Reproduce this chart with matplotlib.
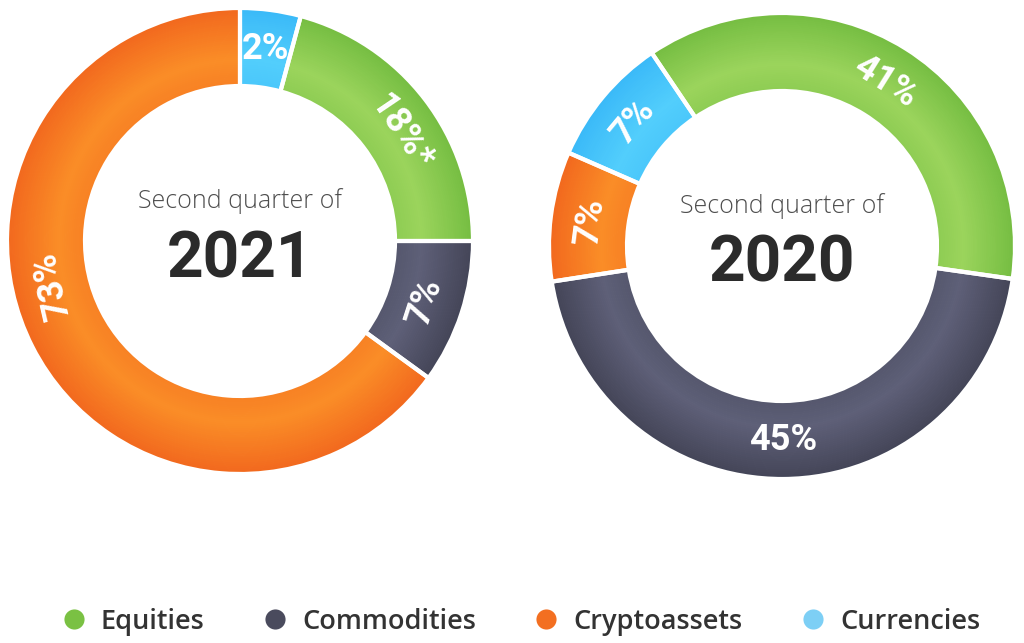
import numpy as np
import matplotlib.pyplot as plt
from matplotlib.colors import to_rgb
from matplotlib.lines import Line2D

categories = ['Equities', 'Commodities', 'Cryptoassets', 'Currencies']
legend_colors = ['#7ac143', '#4a4b5d', '#f36f21', '#7dcff5']

# slice order as drawn (clockwise), shares as they appear on the rings
order_2021 = ['Currencies', 'Equities', 'Commodities', 'Cryptoassets']
shares_2021 = [4.2, 20.8, 10.0, 65.0]
labels_2021 = ['2%', '18%*', '7%', '73%']

order_2020 = ['Equities', 'Commodities', 'Cryptoassets', 'Currencies']
shares_2020 = [36.7, 45.3, 9.0, 9.0]
labels_2020 = ['41%', '45%', '7%', '7%']

# light (mid ring) / dark (outer edge) shades per category
shade = {
    'Equities': ('#9bd45c', '#76be42'),
    'Commodities': ('#5e6078', '#444558'),
    'Cryptoassets': ('#fa8d27', '#f2691e'),
    'Currencies': ('#52cefc', '#3bbaf8'),
}

W, H = 1024, 643
R_OUT, R_IN = 232, 156


def mix(c1, c2, t):
    a, b = np.array(to_rgb(c1)), np.array(to_rgb(c2))
    return tuple(a + (b - a) * t)


def donut(cx, cy, order, shares, labels, start, year, label_angles=None):
    half = 240
    ax = fig.add_axes([(cx - half) / W, (H - cy - half) / H, 2 * half / W, 2 * half / H])
    ax.set_xlim(-half, half)
    ax.set_ylim(-half, half)
    ax.set_aspect('equal')
    ax.axis('off')

    n = 40
    radii = np.linspace(R_IN, R_OUT, n + 1)
    for k in range(n):
        t = (radii[k] + radii[k + 1]) / 2
        t = (t - R_IN) / (R_OUT - R_IN)
        # lightest around 35% of the ring width, darker at the edges
        w = abs(t - 0.35) / 0.65 if t > 0.35 else (0.35 - t) / 0.35 * 0.35
        cols = [mix(shade[c][0], shade[c][1], w) for c in order]
        ax.pie(shares, radius=radii[k + 1], startangle=start, counterclock=False,
               colors=cols, wedgeprops=dict(width=radii[k + 1] - radii[k] + 0.8, linewidth=0))
    # white separators
    ax.pie(shares, radius=R_OUT + 1, startangle=start, counterclock=False,
           colors=['none'] * len(shares),
           wedgeprops=dict(width=R_OUT - R_IN + 2, edgecolor='white', linewidth=3))
    ax.set_xlim(-half, half)
    ax.set_ylim(-half, half)

    cum = np.cumsum([0] + shares)
    r_lab = (R_OUT + R_IN) / 2
    for i, lab in enumerate(labels):
        mid = start - 360 * (cum[i] + cum[i + 1]) / 200
        if label_angles and label_angles[i] is not None:
            mid = label_angles[i]
        a = mid % 360
        rot = a - 90 if a < 240 else a + 90
        if abs(rot) < 12 or abs(rot - 360) < 12:
            rot = 0
        ax.text(r_lab * np.cos(np.radians(mid)), r_lab * np.sin(np.radians(mid)), lab,
                rotation=rot, rotation_mode='anchor', ha='center', va='center',
                color='white', fontsize=26, fontweight='bold', family='Roboto')

    ax.text(0, 33, 'Second quarter of', ha='center', va='baseline', fontsize=18,
            color='#4d4d4d', family='Open Sans', fontweight='light')
    ax.text(0, -36, year, ha='center', va='baseline', fontsize=46,
            color='#2b2b2b', family='Roboto', fontweight='bold')


fig = plt.figure(figsize=(10.24, 6.43), dpi=100)

donut(240, 241, order_2021, shares_2021, labels_2021, 90, '2021',
      label_angles=[None, 34, None, 193])
donut(782, 246, order_2020, shares_2020, labels_2020, 124, '2020')

handles = [Line2D([], [], marker='o', linestyle='', markersize=14.5,
                  markerfacecolor=c, markeredgecolor='none') for c in legend_colors]
fig.legend(handles, categories, loc='center', bbox_to_anchor=(0.508, 0.033), ncol=4,
           frameon=False, handlelength=1.0, handletextpad=0.5, columnspacing=2.1,
           prop=dict(family='Open Sans', size=19.5, weight='semibold'), labelcolor='#333333')

fig.savefig('out.png', dpi=100, facecolor='white')
